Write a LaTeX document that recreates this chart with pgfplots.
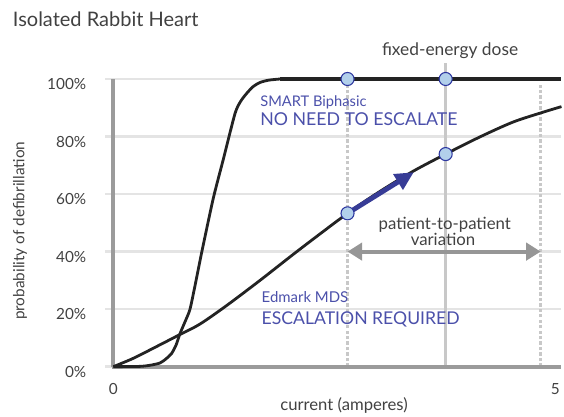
\documentclass[border=0pt]{standalone}
\usepackage{pgfplots}
\pgfplotsset{compat=1.18}
\usepackage{fontspec}
\setmainfont{Lato}
\usetikzlibrary{arrows.meta}
\definecolor{gridgray}{RGB}{228,228,228}
\definecolor{axisgray}{RGB}{155,155,155}
\definecolor{vgray}{RGB}{200,200,200}
\definecolor{textgray}{RGB}{65,65,65}
\definecolor{curveblack}{RGB}{35,35,35}
\definecolor{labelblue}{RGB}{75,80,170}
\definecolor{arrowblue}{RGB}{55,60,150}
\definecolor{arrgray}{RGB}{150,150,150}
\definecolor{dotfill}{RGB}{178,208,235}
\definecolor{dotedge}{RGB}{45,55,160}

\begin{document}
\begin{tikzpicture}
\useasboundingbox (-79pt,-37.7pt) rectangle (344pt,275pt);
\begin{axis}[
  scale only axis, width=342.1pt, height=228.7pt,
  xmin=-0.09, xmax=5.07, ymin=0, ymax=106,
  axis lines=left, axis line style={draw=none}, tick style={draw=none},
  xtick={0,5}, ytick={0,20,40,60,80,100},
  yticklabels={0\%,20\%,40\%,60\%,80\%,100\%},
  /pgf/number format/assume math mode=true,
  ymajorgrids, grid style={draw=gridgray,line width=2pt},
  tick label style={font=\fontsize{11.5}{13}\selectfont,text=textgray,inner sep=0pt},
  yticklabel style={xshift=-12pt,yshift=-4pt},
  xticklabel style={yshift=-10pt},
  clip=false,
]
% reference lines
\draw[vgray,line width=2.3pt,dash pattern=on 2.5pt off 1.6pt] (axis cs:2.65,0) -- (axis cs:2.65,98);
\draw[vgray,line width=2.3pt,dash pattern=on 2.5pt off 1.6pt] (axis cs:4.835,0) -- (axis cs:4.835,98.5);
\draw[vgray,line width=2.4pt] (axis cs:3.76,0) -- (axis cs:3.76,105.5);
% axes
\draw[axisgray,line width=3pt] (axis cs:-0.02,0) -- (axis cs:5.07,0);
\draw[axisgray,line width=3pt] (axis cs:0,0) -- (axis cs:0,100);

% SMART Biphasic
\addplot[curveblack,line width=2.1pt,smooth,tension=0.4] coordinates
  {(0,0)(0.3,0.1)(0.42,0.5)(0.53,1.3)(0.6,2.8)(0.66,4.6)(0.71,7.5)
   (0.755,11.5)(0.81,15.5)(0.868,20)(0.93,29)(1.0,39.7)(1.131,58.5)
   (1.244,72)(1.377,88)(1.44,92.2)(1.509,95)(1.58,97.3)(1.66,98.8)
   (1.76,99.6)(1.886,100)};
\addplot[curveblack,line width=2.9pt] coordinates {(1.886,100)(5.07,100)};
% Edmark MDS
\addplot[curveblack,line width=2.1pt,smooth,tension=0.5] coordinates
  {(0,0)(0.226,2.9)(0.49,7)(0.743,11)(0.98,14.8)(1.28,21.2)(1.66,30.0)
   (2.11,40.8)(2.65,53.3)(3.0,60.6)(3.39,67.9)(3.76,73.9)(4.15,79.9)
   (4.52,85.0)(4.835,88.2)(5.07,90.4)};

% arrows
\draw[arrowblue,line width=3.6pt,-{Triangle[length=14pt,width=13pt]}]
  (axis cs:2.65,53.3) -- (axis cs:3.40,67.6);
\draw[arrgray,line width=3pt,{Triangle[length=11pt,width=13pt]}-{Triangle[length=11pt,width=13pt]}]
  (axis cs:2.65,40) -- (axis cs:4.835,40);

% dots
\addplot[only marks,mark=*,mark size=4.9pt,
  mark options={fill=dotfill,draw=dotedge,line width=0.8pt}] coordinates
  {(2.65,100)(3.76,100)(2.65,53.3)(3.76,73.9)};

% text
\node[anchor=base west,inner sep=0pt,text=textgray,font=\fontsize{15}{18}\selectfont]
  at (axis cs:-1.138,118.2) {Isolated Rabbit Heart};
\node[anchor=base,inner sep=0pt,text=textgray,font=\fontsize{13}{15}\selectfont]
  at (axis cs:3.81,108) {fixed-energy dose};
\node[rotate=90,inner sep=0pt,text=textgray,font=\fontsize{11.5}{14}\selectfont]
  at (axis cs:-1.055,47.2) {probability of defibrillation};
\node[anchor=base,inner sep=0pt,text=textgray,font=\fontsize{12.5}{15}\selectfont]
  at (axis cs:2.61,-15.1) {current (amperes)};
\node[anchor=base west,inner sep=0pt,text=labelblue,font=\fontsize{11}{13}\selectfont]
  at (axis cs:1.66,90.6) {SMART Biphasic};
\node[anchor=base west,inner sep=0pt,text=labelblue,font=\fontsize{13.3}{16}\selectfont]
  at (axis cs:1.66,84) {NO NEED TO ESCALATE};
\node[anchor=base west,inner sep=0pt,text=labelblue,font=\fontsize{11.2}{13}\selectfont]
  at (axis cs:1.676,22.2) {Edmark MDS};
\node[anchor=base west,inner sep=0pt,text=labelblue,font=\fontsize{13.2}{16}\selectfont]
  at (axis cs:1.676,14.5) {ESCALATION REQUIRED};
\node[anchor=base,inner sep=0pt,text=textgray,font=\fontsize{12.6}{15}\selectfont]
  at (axis cs:3.75,47.8) {patient-to-patient};
\node[anchor=base,inner sep=0pt,text=textgray,font=\fontsize{12.6}{15}\selectfont]
  at (axis cs:3.73,42.2) {variation};
\end{axis}
\end{tikzpicture}
\end{document}
